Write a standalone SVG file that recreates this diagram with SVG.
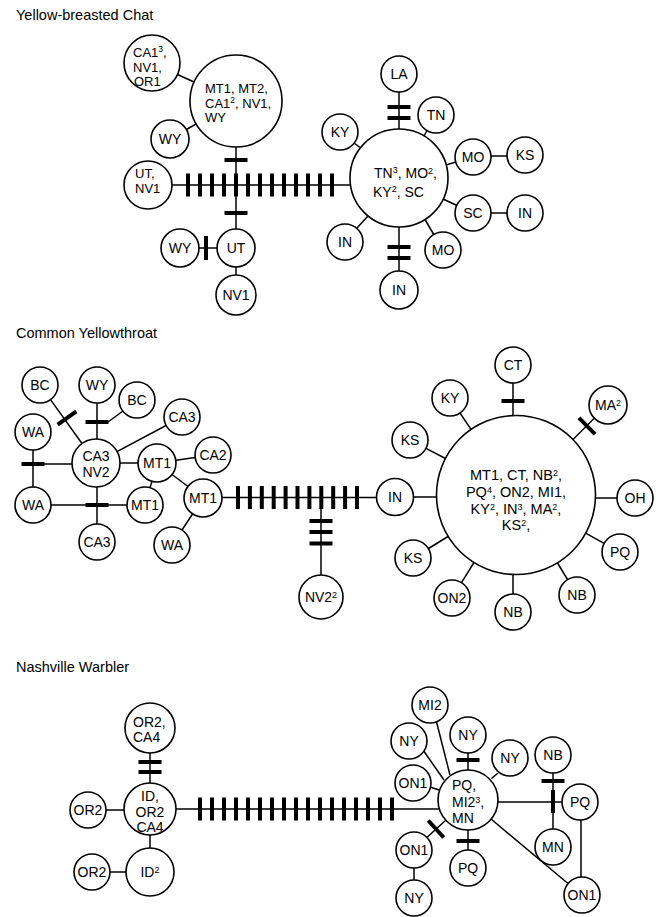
<svg xmlns="http://www.w3.org/2000/svg" xmlns:xlink="http://www.w3.org/1999/xlink" width="661" height="917" viewBox="0 0 661 917">
<style>
text{font-family:"Liberation Sans",Arial,sans-serif;font-size:14px;fill:#000}
.title{font-size:14.5px}
.node circle{fill:#fff;stroke:#000;stroke-width:1.6}
.mid{text-anchor:middle}
.sm text{font-size:13px}
#edges line{stroke:#000;stroke-width:1.5}
#edges rect,#edges use{fill:#000}
.s{font-size:9px}
.sm .s{font-size:8.5px}
</style>
<defs>
<rect id="tv" x="-2" y="-11.5" width="4" height="23"/>
<rect id="th" x="-11.5" y="-2" width="23" height="4"/>
</defs>
<rect width="661" height="917" fill="#fff"/>

<text class="title" x="16" y="20">Yellow-breasted Chat</text>
<text class="title" x="16" y="338">Common Yellowthroat</text>
<text class="title" x="16" y="672">Nashville Warbler</text>

<g id="edges">
<!-- Chat -->
<line x1="177.5" y1="74.5" x2="194" y2="82"/>
<line x1="186.5" y1="129.5" x2="196" y2="124"/>
<line x1="236" y1="147" x2="236" y2="229"/>
<use href="#th" x="236" y="160"/>
<use href="#th" x="236" y="213"/>
<line x1="172" y1="185" x2="350" y2="185"/>
<use href="#tv" x="188" y="185"/><use href="#tv" x="200" y="185"/><use href="#tv" x="212" y="185"/><use href="#tv" x="224" y="185"/><use href="#tv" x="236" y="185"/><use href="#tv" x="248" y="185"/><use href="#tv" x="260" y="185"/><use href="#tv" x="272" y="185"/><use href="#tv" x="284" y="185"/><use href="#tv" x="296" y="185"/><use href="#tv" x="308" y="185"/><use href="#tv" x="320" y="185"/><use href="#tv" x="332" y="185"/>
<line x1="199" y1="248" x2="217" y2="248"/>
<rect x="204" y="236" width="4" height="24"/>
<line x1="236" y1="267" x2="236" y2="275"/>
<line x1="399" y1="92" x2="399" y2="129"/>
<use href="#th" x="399" y="107"/><use href="#th" x="399" y="118"/>
<line x1="424" y1="136" x2="427" y2="130.5"/>
<line x1="360" y1="147.5" x2="354" y2="143"/>
<line x1="446" y1="165" x2="456" y2="162"/>
<line x1="491" y1="156" x2="507" y2="156"/>
<line x1="443" y1="199" x2="457" y2="205.5"/>
<line x1="491" y1="213" x2="507" y2="213"/>
<line x1="368" y1="216" x2="357" y2="228"/>
<line x1="425" y1="219.5" x2="434" y2="235"/>
<line x1="399" y1="227" x2="399" y2="271"/>
<use href="#th" x="399" y="247"/><use href="#th" x="399" y="258"/>

<!-- Yellowthroat -->
<line x1="50.5" y1="399.6" x2="82" y2="443.5"/>
<rect x="-2" y="-11.5" width="4" height="23" transform="translate(67,418) rotate(54.3)"/>
<line x1="97" y1="403" x2="97" y2="439"/>
<use href="#th" x="97" y="422"/>
<line x1="123" y1="411" x2="108" y2="422"/>
<line x1="166" y1="425.5" x2="117" y2="451.7"/>
<line x1="33" y1="450" x2="33" y2="487"/>
<use href="#th" x="33" y="464"/>
<line x1="33" y1="464" x2="72" y2="464"/>
<line x1="120" y1="463" x2="138" y2="463"/>
<line x1="176" y1="460.3" x2="195" y2="457.5"/>
<line x1="152" y1="481.3" x2="150" y2="487.7"/>
<line x1="172" y1="474.5" x2="188" y2="486.5"/>
<line x1="51" y1="505" x2="127" y2="505"/>
<line x1="97" y1="487" x2="97" y2="524"/>
<use href="#th" x="97" y="505"/>
<line x1="192.5" y1="514" x2="182" y2="530"/>
<line x1="222" y1="497.5" x2="376.5" y2="497.5"/>
<use href="#tv" x="238" y="497.5"/><use href="#tv" x="249.9" y="497.5"/><use href="#tv" x="261.8" y="497.5"/><use href="#tv" x="273.7" y="497.5"/><use href="#tv" x="285.6" y="497.5"/><use href="#tv" x="297.5" y="497.5"/><use href="#tv" x="309.4" y="497.5"/><use href="#tv" x="321.3" y="497.5"/><use href="#tv" x="333.2" y="497.5"/><use href="#tv" x="345.1" y="497.5"/><use href="#tv" x="357" y="497.5"/>
<line x1="321" y1="497.5" x2="321" y2="575"/>
<use href="#th" x="321" y="521"/><use href="#th" x="321" y="532"/><use href="#th" x="321" y="543.5"/>
<line x1="413.5" y1="497" x2="437" y2="497"/>
<line x1="513" y1="383" x2="513" y2="416"/>
<use href="#th" x="513" y="401"/>
<line x1="573" y1="439.5" x2="594" y2="418.5"/>
<rect x="-2" y="-11.5" width="4" height="23" transform="translate(587,426) rotate(-44.4)"/>
<line x1="471" y1="429.3" x2="460" y2="413"/>
<line x1="445.5" y1="458.5" x2="426" y2="448.3"/>
<line x1="448" y1="536.5" x2="428.5" y2="548.5"/>
<line x1="474" y1="562.5" x2="461.5" y2="582.7"/>
<line x1="513" y1="574" x2="513" y2="594"/>
<line x1="557.5" y1="563" x2="567.5" y2="579.5"/>
<line x1="585.7" y1="533.2" x2="604" y2="543.3"/>
<line x1="595.5" y1="498" x2="617" y2="498"/>

<!-- Nashville -->
<line x1="150" y1="753" x2="150" y2="783"/>
<use href="#th" x="150" y="762"/><use href="#th" x="150" y="772"/>
<line x1="106" y1="810" x2="124" y2="810"/>
<line x1="150" y1="835" x2="150" y2="848"/>
<line x1="110" y1="872" x2="126" y2="872"/>
<line x1="176" y1="809" x2="439" y2="809"/>
<use href="#tv" x="200" y="809"/><use href="#tv" x="212" y="809"/><use href="#tv" x="224" y="809"/><use href="#tv" x="236" y="809"/><use href="#tv" x="248" y="809"/><use href="#tv" x="260" y="809"/><use href="#tv" x="272" y="809"/><use href="#tv" x="284" y="809"/><use href="#tv" x="296" y="809"/><use href="#tv" x="308" y="809"/><use href="#tv" x="320" y="809"/><use href="#tv" x="332" y="809"/><use href="#tv" x="344" y="809"/><use href="#tv" x="356" y="809"/><use href="#tv" x="368" y="809"/><use href="#tv" x="380" y="809"/><use href="#tv" x="392" y="809"/>
<line x1="435" y1="716" x2="450" y2="775"/>
<line x1="423" y1="750" x2="444" y2="780"/>
<line x1="430" y1="787" x2="439" y2="790"/>
<line x1="468" y1="753" x2="468" y2="770"/>
<use href="#th" x="468" y="760"/>
<line x1="498" y1="773" x2="491.5" y2="778.5"/>
<line x1="426.3" y1="838" x2="446" y2="820"/>
<rect x="-2" y="-11.5" width="4" height="23" transform="translate(436,829) rotate(-42.3)"/>
<line x1="414" y1="868" x2="414" y2="880"/>
<line x1="468" y1="830" x2="468" y2="850"/>
<use href="#th" x="468" y="841"/>
<line x1="498" y1="802" x2="562" y2="802"/>
<line x1="553" y1="773" x2="553" y2="829"/>
<use href="#th" x="553" y="781"/>
<rect x="551" y="790" width="4" height="23"/>
<line x1="491" y1="819" x2="568" y2="883.5"/>
<line x1="581" y1="820" x2="581" y2="877"/>
</g>

<!-- Chat nodes -->
<g id="c_ca1" class="node sm"><circle cx="152" cy="63" r="28"/><text x="133" y="57">CA1<tspan class="s" dy="-5">3</tspan><tspan dy="5">,</tspan></text><text x="133" y="72">NV1,</text><text x="134" y="86">OR1</text></g>
<g id="c_mt" class="node sm"><circle cx="236" cy="101" r="46"/><text x="205" y="93">MT1, MT2,</text><text x="205" y="108">CA1<tspan class="s" dy="-5">2</tspan><tspan dy="5">, NV1,</tspan></text><text x="205" y="122">WY</text></g>
<g id="c_wy1" class="node"><circle cx="170" cy="139" r="19"/><text class="mid" x="170" y="144">WY</text></g>
<g id="c_utnv" class="node sm"><circle cx="148" cy="185" r="24"/><text x="135" y="178">UT,</text><text x="135" y="193">NV1</text></g>
<g id="c_ut" class="node"><circle cx="236" cy="248" r="19"/><text class="mid" x="236" y="253">UT</text></g>
<g id="c_wy2" class="node"><circle cx="180" cy="248" r="19"/><text class="mid" x="180" y="253">WY</text></g>
<g id="c_nv1" class="node"><circle cx="236" cy="295" r="20"/><text class="mid" x="236" y="300">NV1</text></g>
<g id="c_tn3" class="node"><circle cx="399" cy="178" r="49"/><text x="374" y="178">TN<tspan class="s" dy="-5">3</tspan><tspan dy="5">, MO</tspan><tspan class="s" dy="-4">2</tspan><tspan dy="4">,</tspan></text><text x="373" y="197">KY<tspan class="s" dy="-5">2</tspan><tspan dy="5">, SC</tspan></text></g>
<g id="c_la" class="node"><circle cx="399" cy="74" r="18"/><text class="mid" x="399" y="79">LA</text></g>
<g id="c_tn" class="node"><circle cx="436" cy="115" r="18"/><text class="mid" x="436" y="120">TN</text></g>
<g id="c_ky" class="node"><circle cx="340" cy="132" r="18"/><text class="mid" x="340" y="137">KY</text></g>
<g id="c_mo1" class="node"><circle cx="473" cy="157" r="18"/><text class="mid" x="473" y="162">MO</text></g>
<g id="c_ks" class="node"><circle cx="525" cy="155" r="18"/><text class="mid" x="525" y="160">KS</text></g>
<g id="c_sc" class="node"><circle cx="473" cy="213" r="18"/><text class="mid" x="473" y="218">SC</text></g>
<g id="c_in1" class="node"><circle cx="525" cy="213" r="18"/><text class="mid" x="525" y="218">IN</text></g>
<g id="c_in2" class="node"><circle cx="345" cy="242" r="18"/><text class="mid" x="345" y="247">IN</text></g>
<g id="c_mo2" class="node"><circle cx="443" cy="250" r="18"/><text class="mid" x="443" y="255">MO</text></g>
<g id="c_in3" class="node"><circle cx="399" cy="290" r="19"/><text class="mid" x="399" y="295">IN</text></g>

<!-- Yellowthroat nodes -->
<g id="y_bc1" class="node"><circle cx="40" cy="385" r="18"/><text class="mid" x="40" y="390">BC</text></g>
<g id="y_wy" class="node"><circle cx="97" cy="385" r="18"/><text class="mid" x="97" y="390">WY</text></g>
<g id="y_bc2" class="node"><circle cx="137" cy="400" r="18"/><text class="mid" x="137" y="405">BC</text></g>
<g id="y_wa1" class="node"><circle cx="33" cy="432" r="18"/><text class="mid" x="33" y="437">WA</text></g>
<g id="y_ca3nv2" class="node"><circle cx="96" cy="463" r="24"/><text class="mid" x="96" y="460.5">CA3</text><text class="mid" x="96" y="476.5">NV2</text></g>
<g id="y_ca3a" class="node"><circle cx="182" cy="417" r="18"/><text class="mid" x="182" y="422">CA3</text></g>
<g id="y_mt1a" class="node"><circle cx="157" cy="463" r="19"/><text class="mid" x="157" y="468">MT1</text></g>
<g id="y_ca2" class="node"><circle cx="213" cy="455" r="18"/><text class="mid" x="213" y="460">CA2</text></g>
<g id="y_wa2" class="node"><circle cx="33" cy="505" r="18"/><text class="mid" x="33" y="510">WA</text></g>
<g id="y_mt1b" class="node"><circle cx="145" cy="505" r="18"/><text class="mid" x="145" y="510">MT1</text></g>
<g id="y_mt1c" class="node"><circle cx="203" cy="498" r="19"/><text class="mid" x="203" y="503">MT1</text></g>
<g id="y_ca3b" class="node"><circle cx="97" cy="542" r="18"/><text class="mid" x="97" y="547">CA3</text></g>
<g id="y_wa3" class="node"><circle cx="172" cy="545" r="18"/><text class="mid" x="172" y="550">WA</text></g>
<g id="y_nv2" class="node"><circle cx="321" cy="597" r="22"/><text class="mid" x="321" y="602">NV2<tspan class="s" dy="-4">2</tspan></text></g>
<g id="y_in" class="node"><circle cx="395" cy="497" r="18.5"/><text class="mid" x="395" y="502">IN</text></g>
<g id="y_big" class="node"><circle cx="516" cy="495" r="79.5"/>
<text class="mid" x="516" y="480" style="font-size:14.5px">MT1, CT, NB<tspan class="s" dy="-4">2</tspan><tspan dy="4">,</tspan></text>
<text class="mid" x="516" y="497" style="font-size:14.5px">PQ<tspan class="s" dy="-4">4</tspan><tspan dy="4">, ON2, MI1,</tspan></text>
<text class="mid" x="516" y="514" style="font-size:14.5px">KY<tspan class="s" dy="-4">2</tspan><tspan dy="4">, IN</tspan><tspan class="s" dy="-4">3</tspan><tspan dy="4">, MA</tspan><tspan class="s" dy="-4">2</tspan><tspan dy="4">,</tspan></text>
<text class="mid" x="516" y="530" style="font-size:14.5px">KS<tspan class="s" dy="-4">2</tspan><tspan dy="4">,</tspan></text></g>
<g id="y_ct" class="node"><circle cx="513" cy="365" r="18"/><text class="mid" x="513" y="370">CT</text></g>
<g id="y_ma2" class="node"><circle cx="608" cy="405" r="19"/><text class="mid" x="608" y="410">MA<tspan class="s" dy="-4">2</tspan></text></g>
<g id="y_ky" class="node"><circle cx="450" cy="398" r="18"/><text class="mid" x="450" y="403">KY</text></g>
<g id="y_ks1" class="node"><circle cx="410" cy="440" r="18"/><text class="mid" x="410" y="445">KS</text></g>
<g id="y_oh" class="node"><circle cx="635" cy="498" r="18"/><text class="mid" x="635" y="503">OH</text></g>
<g id="y_ks2" class="node"><circle cx="413" cy="558" r="18"/><text class="mid" x="413" y="563">KS</text></g>
<g id="y_pq" class="node"><circle cx="620" cy="552" r="18"/><text class="mid" x="620" y="557">PQ</text></g>
<g id="y_on2" class="node"><circle cx="452" cy="598" r="18"/><text class="mid" x="452" y="603">ON2</text></g>
<g id="y_nb1" class="node"><circle cx="513" cy="612" r="18"/><text class="mid" x="513" y="617">NB</text></g>
<g id="y_nb2" class="node"><circle cx="577" cy="595" r="18"/><text class="mid" x="577" y="600">NB</text></g>

<!-- Nashville nodes -->
<g id="n_or2ca4" class="node"><circle cx="150" cy="728" r="25"/><text x="133" y="727">OR2,</text><text x="133" y="742">CA4</text></g>
<g id="n_idor2" class="node"><circle cx="150" cy="809" r="26"/><text class="mid" x="150" y="801">ID,</text><text class="mid" x="150" y="817">OR2</text><text class="mid" x="150" y="832">CA4</text></g>
<g id="n_or2a" class="node"><circle cx="88" cy="810" r="18"/><text class="mid" x="88" y="815">OR2</text></g>
<g id="n_id2" class="node"><circle cx="150" cy="872" r="24"/><text class="mid" x="150" y="877">ID<tspan class="s" dy="-4">2</tspan></text></g>
<g id="n_or2b" class="node"><circle cx="92" cy="872" r="18"/><text class="mid" x="92" y="877">OR2</text></g>
<g id="n_big" class="node"><circle cx="468" cy="800" r="30"/><text x="452" y="790">PQ,</text><text x="452" y="807">MI2<tspan class="s" dy="-4">3</tspan><tspan dy="4">,</tspan></text><text x="452" y="823">MN</text></g>
<g id="n_mi2" class="node"><circle cx="430" cy="705" r="18"/><text class="mid" x="430" y="710">MI2</text></g>
<g id="n_nya" class="node"><circle cx="409" cy="741" r="18"/><text class="mid" x="409" y="746">NY</text></g>
<g id="n_nyb" class="node"><circle cx="468" cy="735" r="18"/><text class="mid" x="468" y="740">NY</text></g>
<g id="n_nyc" class="node"><circle cx="510" cy="758" r="18"/><text class="mid" x="510" y="763">NY</text></g>
<g id="n_on1a" class="node"><circle cx="413" cy="783" r="18"/><text class="mid" x="413" y="788">ON1</text></g>
<g id="n_on1b" class="node"><circle cx="414" cy="850" r="18"/><text class="mid" x="414" y="855">ON1</text></g>
<g id="n_nyd" class="node"><circle cx="414" cy="898" r="18"/><text class="mid" x="414" y="903">NY</text></g>
<g id="n_pqb" class="node"><circle cx="468" cy="868" r="18"/><text class="mid" x="468" y="873">PQ</text></g>
<g id="n_nb" class="node"><circle cx="553" cy="755" r="18"/><text class="mid" x="553" y="760">NB</text></g>
<g id="n_pqr" class="node"><circle cx="580" cy="802" r="18"/><text class="mid" x="580" y="807">PQ</text></g>
<g id="n_mn" class="node"><circle cx="553" cy="847" r="18"/><text class="mid" x="553" y="852">MN</text></g>
<g id="n_on1c" class="node"><circle cx="582" cy="895" r="18"/><text class="mid" x="582" y="900">ON1</text></g>
</svg>
